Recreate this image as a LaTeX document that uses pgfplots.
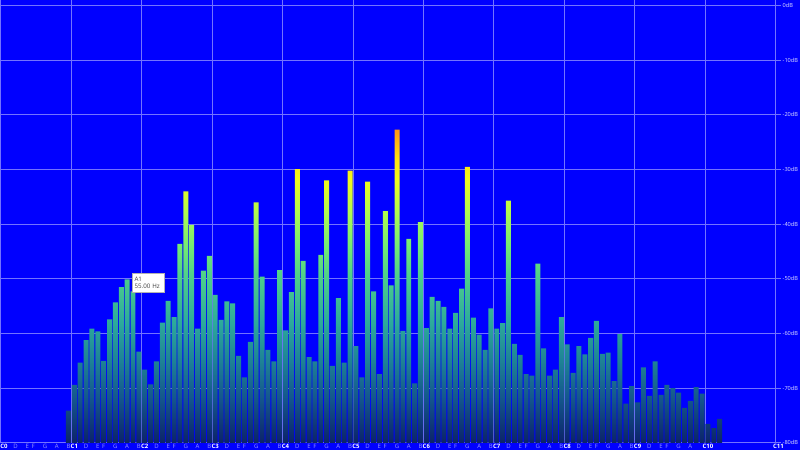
\documentclass[border=0pt]{standalone}
\usepackage{pgfplots}
\pgfplotsset{compat=1.18}
\usepackage{pgfplotstable}
\usepackage{fontspec}
\setmainfont{Open Sans}
\definecolor{bg}{RGB}{0,0,255}
\definecolor{gridc}{RGB}{115,115,255}
\definecolor{lblue}{RGB}{150,150,255}
\definecolor{ylab}{RGB}{225,225,255}
\definecolor{s0}{RGB}{12,35,105}
\definecolor{s1}{RGB}{20,85,140}
\definecolor{s2}{RGB}{30,130,150}
\definecolor{s3}{RGB}{45,170,155}
\definecolor{s4}{RGB}{75,205,140}
\definecolor{s5}{RGB}{115,235,115}
\definecolor{s6}{RGB}{175,250,80}
\definecolor{s7}{RGB}{240,250,30}
\definecolor{s8}{RGB}{255,225,15}
\definecolor{s9}{RGB}{255,150,20}
\pgfdeclareverticalshading{barshade}{100bp}{color(0bp)=(s0); color(25bp)=(s0); color(31.98bp)=(s1); color(38.09bp)=(s2); color(44.2bp)=(s3); color(51.18bp)=(s4); color(56.41bp)=(s5); color(61.65bp)=(s6); color(66.88bp)=(s7); color(70.37bp)=(s8); color(75bp)=(s9); color(100bp)=(s9)}
\newcommand\Cl[1]{\textcolor{white}{\textbf{C#1}}}
\pgfplotstableread{
x db
11.5 -74.1
12.5 -69.4
13.5 -65.3
14.5 -61.2
15.5 -59.1
16.5 -59.6
17.5 -65.0
18.5 -57.4
19.5 -54.3
20.5 -51.5
21.5 -50.1
22.5 -52.3
23.5 -63.3
24.5 -66.6
25.5 -69.3
26.5 -65.1
27.5 -58.0
28.5 -54.0
29.5 -57.0
30.5 -43.6
31.5 -34.0
32.5 -40.1
33.5 -59.1
34.5 -48.5
35.5 -45.8
36.5 -52.9
37.5 -57.5
38.5 -54.1
39.5 -54.5
40.5 -64.1
41.5 -68.0
42.5 -61.5
43.5 -36.0
44.5 -49.6
45.5 -63.0
46.5 -65.1
47.5 -48.4
48.5 -59.4
49.5 -52.4
50.5 -29.9
51.5 -46.7
52.5 -64.3
53.5 -65.1
54.5 -45.6
55.5 -32.0
56.5 -65.9
57.5 -53.5
58.5 -65.3
59.5 -30.2
60.5 -62.3
61.5 -68.0
62.5 -32.2
63.5 -52.3
64.5 -67.4
65.5 -37.6
66.5 -51.2
67.5 -22.7
68.5 -59.5
69.5 -42.7
70.5 -69.1
71.5 -39.6
72.5 -59.0
73.5 -53.3
74.5 -54.0
75.5 -55.1
76.5 -59.1
77.5 -56.2
78.5 -51.8
79.5 -29.5
80.5 -57.1
81.5 -60.2
82.5 -63.0
83.5 -55.4
84.5 -59.1
85.5 -58.1
86.5 -35.7
87.5 -61.9
88.5 -63.9
89.5 -67.4
90.5 -67.7
91.5 -47.2
92.5 -62.7
93.5 -67.7
94.5 -66.6
95.5 -57.0
96.5 -62.0
97.5 -67.2
98.5 -62.3
99.5 -63.8
100.5 -60.8
101.5 -57.7
102.5 -63.7
103.5 -63.5
104.5 -68.7
105.5 -60.1
106.5 -72.8
107.5 -69.6
108.5 -72.6
109.5 -66.2
110.5 -71.4
111.5 -65.1
112.5 -71.2
113.5 -69.4
114.5 -70.0
115.5 -70.8
116.5 -73.6
117.5 -72.3
118.5 -69.8
119.5 -71.0
120.5 -76.5
121.5 -77.3
122.5 -75.6
}\spec
\begin{document}
\begin{tikzpicture}
\fill[bg] (0,0) rectangle (400pt,225pt);
\begin{axis}[
  at={(0.5pt,3.55pt)}, anchor=south west, scale only axis,
  width=390.15pt, height=221.4pt,
  xmin=0, xmax=133, ymin=0, ymax=81,
  axis on top=false,
  axis line style={draw=none},
  major tick length=0pt, minor tick length=0pt,
  xtick={0.5,2.5,4.5,5.5,7.5,9.5,11.5,
    12.5,14.5,16.5,17.5,19.5,21.5,23.5,
    24.5,26.5,28.5,29.5,31.5,33.5,35.5,
    36.5,38.5,40.5,41.5,43.5,45.5,47.5,
    48.5,50.5,52.5,53.5,55.5,57.5,59.5,
    60.5,62.5,64.5,65.5,67.5,69.5,71.5,
    72.5,74.5,76.5,77.5,79.5,81.5,83.5,
    84.5,86.5,88.5,89.5,91.5,93.5,95.5,
    96.5,98.5,100.5,101.5,103.5,105.5,107.5,
    108.5,110.5,112.5,113.5,115.5,117.5,
    120.5,132.5},
  xticklabels={{\Cl{0}},D,E,F,G,A,B,
    {\Cl{1}},D,E,F,G,A,B,
    {\Cl{2}},D,E,F,G,A,B,
    {\Cl{3}},D,E,F,G,A,B,
    {\Cl{4}},D,E,F,G,A,B,
    {\Cl{5}},D,E,F,G,A,B,
    {\Cl{6}},D,E,F,G,A,B,
    {\Cl{7}},D,E,F,G,A,B,
    {\Cl{8}},D,E,F,G,A,B,
    {\Cl{9}},D,E,F,G,A,
    {\Cl{10}},{\Cl{11}}},
  xticklabel style={font=\fontsize{3}{4}\selectfont, text=lblue, anchor=north, inner sep=0.4pt},
  minor xtick={0,12,...,132},
  xmajorgrids=false, xminorgrids=true, ymajorgrids=true,
  ytick={0,10,...,80},
  yticklabels={-80dB,-70dB,-60dB,-50dB,-40dB,-30dB,-20dB,-10dB,0dB},
  yticklabel pos=right,
  yticklabel style={font=\fontsize{2.8}{3.5}\selectfont, text=ylab, anchor=west, inner sep=0.5pt},
  major grid style={gridc, line width=0.5pt},
  minor grid style={gridc, line width=0.5pt},
  clip=false,
]
\addplot[ybar, bar width=0.85, draw=none, shading=barshade, shading angle=0]
  table[x=x, y expr=\thisrow{db}+80] {\spec};
\node[draw=gray!60, fill=white, anchor=north west, inner sep=1.2pt, text width=13.9pt,
  minimum height=9.8pt, align=left, font=\fontsize{3.1}{3.9}\selectfont, text=darkgray]
  at (axis cs:22.28,31.14) {A1\\55.00 Hz};
\end{axis}
\pgfresetboundingbox
\path[use as bounding box] (0,0) rectangle (400pt,225pt);
\end{tikzpicture}
\end{document}
